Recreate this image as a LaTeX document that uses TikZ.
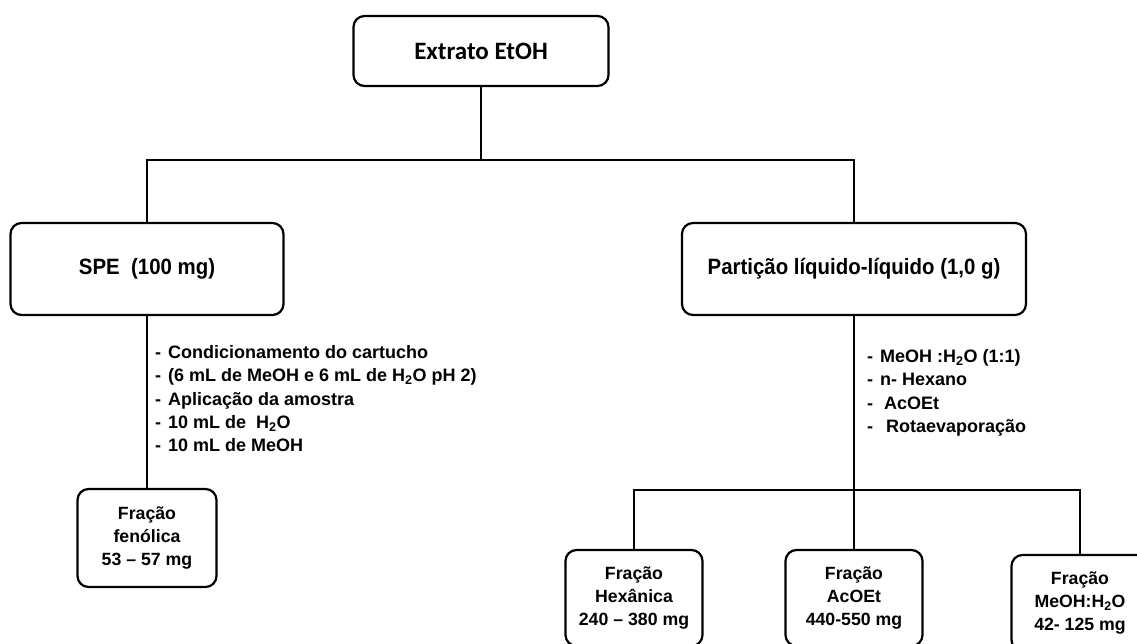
\documentclass[tikz,border=0pt]{standalone}
\usepackage{fontspec}
\setmainfont{Liberation Sans}
\newfontfamily\estreita{Liberation Sans}[FakeStretch=0.92]
\newfontfamily\calibri{Carlito}
\usetikzlibrary{positioning}

\newcommand{\traco}[1]{\makebox[13pt][l]{-}#1}

\begin{document}
\begin{tikzpicture}[x=1pt,y=-1pt,line width=2.2pt,
  caixa/.style={draw,rounded corners=11pt,align=center,inner sep=0pt,font=\estreita\bfseries\fontsize{22.2}{23}\selectfont},
  fracao/.style={caixa,minimum width=137pt,minimum height=96pt,font=\bfseries\fontsize{17.7}{23}\selectfont},
  lista/.style={anchor=north west,inner sep=0pt,align=left,font=\bfseries\fontsize{18}{23.2}\selectfont}]

  \useasboundingbox (0,0) rectangle (1137,643);
  \clip (0,0) rectangle (1137,643);

  \node[caixa,minimum width=255pt,minimum height=70pt,font=\calibri\bfseries\fontsize{25}{28}\selectfont] (ext) at (481,51) {Extrato EtOH};
  \node[caixa,minimum width=273pt,minimum height=92pt] (spe) at (147,269) {SPE\ \ (100 mg)};
  \node[caixa,minimum width=344pt,minimum height=92pt] (part) at (854,269) {Partição líquido-líquido (1,0 g)};

  \node[fracao,minimum width=139pt,minimum height=98pt] (fen) at (147,538) {Fração\\fenólica\\53 – 57 mg};
  \node[fracao] (hex) at (634,598) {Fração\\Hexânica\\240 – 380 mg};
  \node[fracao] (acoet) at (854,598) {Fração\\AcOEt\\440-550 mg};
  \node[fracao] (meoh) at (1080,603) {Fração\\MeOH:H\textsubscript{2}O\\42- 125 mg};

  % etapas de cada ramo
  \node[lista] (passos) at (154,343.5) {\rule{0pt}{14pt}\traco{Condicionamento do cartucho}\\
    \traco{(6 mL de MeOH e 6 mL de H\textsubscript{2}O pH 2)}\\
    \traco{Aplicação da amostra}\\
    \traco{10 mL de~ H\textsubscript{2}O}\\
    \traco{10 mL de MeOH}};
  \node[lista] (particao) at (866,347.5) {\rule{0pt}{14pt}\traco{MeOH :H\textsubscript{2}O (1:1)}\\
    \traco{n- Hexano}\\
    \traco{\hspace{4pt}AcOEt}\\
    \traco{\hspace{6pt}Rotaevaporação}};

  \draw (ext.south) -- ++(0,73) coordinate (ramo) -| (spe.north);
  \draw (ramo) -| (part.north);
  \draw (spe.south) -- (fen.north);
  \draw (part.south) -- ++(0,174) coordinate (ramo2) -| (hex.north);
  \draw (ramo2) -- (acoet.north);
  \draw (ramo2) -| (meoh.north);

\end{tikzpicture}
\end{document}
